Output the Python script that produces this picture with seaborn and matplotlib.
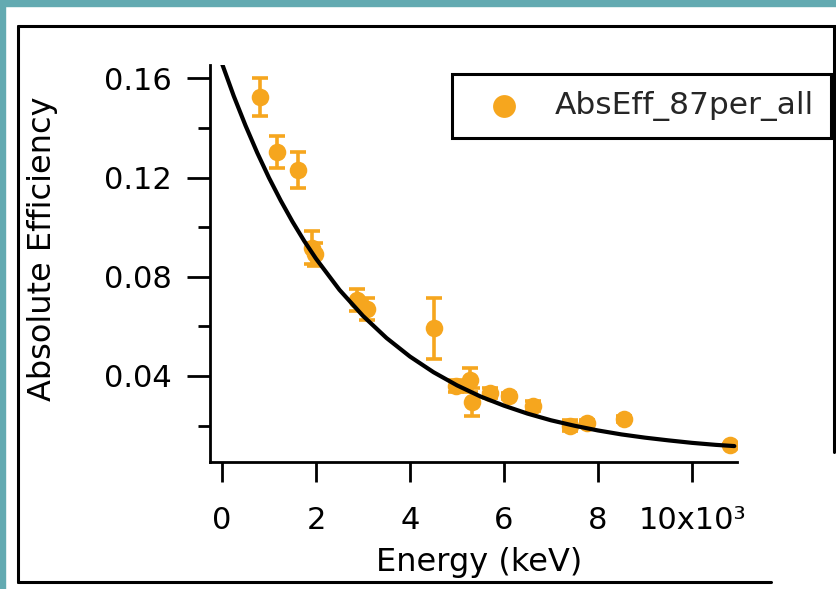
import matplotlib
matplotlib.use('Agg')
import matplotlib.pyplot as plt
import seaborn as sns
from matplotlib.lines import Line2D
from matplotlib.patches import Rectangle

# measured points (energy in keV*1000 units as on the axis)
energy = [800, 1177, 1610, 1909, 1979, 2883, 3085, 4511, 4979, 5277, 5312,
          5702, 6113, 6624, 7404, 7773, 8553, 10809]
eff = [0.1526, 0.1302, 0.1230, 0.0917, 0.0890, 0.0706, 0.0671, 0.0592, 0.0359,
       0.0383, 0.0296, 0.0332, 0.0319, 0.0279, 0.0199, 0.0211, 0.0225, 0.0121]
eff_err = [0.0077, 0.0065, 0.0074, 0.0067, 0.0047, 0.0045, 0.0045, 0.0123, 0.0025,
           0.0047, 0.0056, 0.0020, 0.0012, 0.0020, 0.0022, 0.0012, 0.0012, 0.0005]

# fitted curve
fit_energy = [0, 250, 500, 750, 1000, 1250, 1500, 1750, 2000, 2500, 3000, 3500,
              4000, 4500, 5000, 5500, 6000, 6500, 7000, 7500, 8000, 8500, 9000,
              9500, 10000, 10500, 10900]
fit_eff = [0.1660, 0.1529, 0.1410, 0.1300, 0.1199, 0.1107, 0.1022, 0.0944, 0.0873,
           0.0747, 0.0642, 0.0553, 0.0478, 0.0415, 0.0362, 0.0317, 0.0280, 0.0248,
           0.0221, 0.0199, 0.0180, 0.0164, 0.0151, 0.0140, 0.0130, 0.0122, 0.0117]

x_ticks = [0, 2000, 4000, 6000, 8000, 10000]
x_ticklabels = ['0', '2', '4', '6', '8', '10x10³']
y_ticks = [0.04, 0.08, 0.12, 0.16]
y_ticklabels = ['0.04', '0.08', '0.12', '0.16']
y_minor = [0.02, 0.06, 0.10, 0.14]

series_name = 'AbsEff_87per_all'
orange = '#F6A61E'
teal = '#63AAB1'

sns.set_theme(style='ticks')
plt.rcParams['font.family'] = ['DejaVu Sans']

W, H = 836, 589
def fx(px):
    return px / W
def fy(py):
    return 1 - py / H

fig = plt.figure(figsize=(W / 100, H / 100), dpi=100)
fig.patch.set_facecolor('white')

# slide background bits and the pasted frame
fig.add_artist(Rectangle((0, fy(6)), 1, 6 / H, transform=fig.transFigure,
                         color=teal, zorder=0))
fig.add_artist(Rectangle((0, 0), 5 / W, 1, transform=fig.transFigure,
                         color=teal, zorder=0))
frame_kw = dict(transform=fig.transFigure, color='black', lw=2.2)
fig.add_artist(Line2D([fx(18), fx(836)], [fy(25.5), fy(25.5)], **frame_kw))
fig.add_artist(Line2D([fx(18), fx(18)], [fy(25.5), fy(582)], **frame_kw))
fig.add_artist(Line2D([fx(18), fx(771)], [fy(582), fy(582)], **frame_kw))
fig.add_artist(Line2D([fx(834), fx(834)], [fy(25.5), fy(452)], **frame_kw))

ax = fig.add_axes([fx(210), fy(462), (737 - 210) / W, (462 - 65) / H])
ax.patch.set_alpha(0)

ax.errorbar(energy, eff, yerr=eff_err, fmt='none', ecolor=orange,
            elinewidth=2.6, capsize=5.5, capthick=2.6, zorder=3)
sns.scatterplot(x=energy, y=eff, ax=ax, color=orange, s=160, linewidth=0,
                zorder=3, label=series_name)
sns.lineplot(x=fit_energy, y=fit_eff, ax=ax, color='black', lw=3,
             sort=False, estimator=None, zorder=4, legend=False)

ax.set_xlim(-255, 10957)
ax.set_ylim(0.00528, 0.1654)
ax.set_xticks(x_ticks)
ax.set_xticklabels(x_ticklabels)
ax.set_yticks(y_ticks)
ax.set_yticklabels(y_ticklabels)
ax.set_yticks(y_minor, minor=True)

ax.tick_params(axis='y', which='major', direction='out', length=16.5, width=2,
               pad=11, labelsize=22, color='black', labelcolor='black')
ax.tick_params(axis='y', which='minor', direction='out', length=8.5, width=2,
               color='black')
ax.tick_params(axis='x', which='major', direction='out', length=14.5, width=2,
               pad=17, labelsize=22, color='black', labelcolor='black')

for side in ['top', 'right']:
    ax.spines[side].set_visible(False)
for side in ['left', 'bottom']:
    ax.spines[side].set_linewidth(2)
    ax.spines[side].set_color('black')

ax.set_xlabel('Energy (keV)', fontsize=23, color='black')
ax.set_ylabel('Absolute Efficiency', fontsize=23, color='black')
ax.xaxis.label.set_va('center')
ax.yaxis.label.set_va('center')
ax.xaxis.set_label_coords((479 - 210) / 527, (462 - 563) / 397)
ax.yaxis.set_label_coords((43 - 210) / 527, (462 - 249) / 397)

handles, labels = ax.get_legend_handles_labels()
leg = ax.legend(handles, labels, loc='upper left',
                bbox_to_anchor=(fx(452), fy(74)), bbox_transform=fig.transFigure,
                frameon=True, fancybox=False, edgecolor='black', framealpha=1,
                fontsize=22.5, markerscale=1.3, handlelength=2.2,
                handletextpad=0.55, borderpad=0.55, borderaxespad=0)
leg.get_frame().set_linewidth(2.2)

fig.savefig('out.png', dpi=100)
